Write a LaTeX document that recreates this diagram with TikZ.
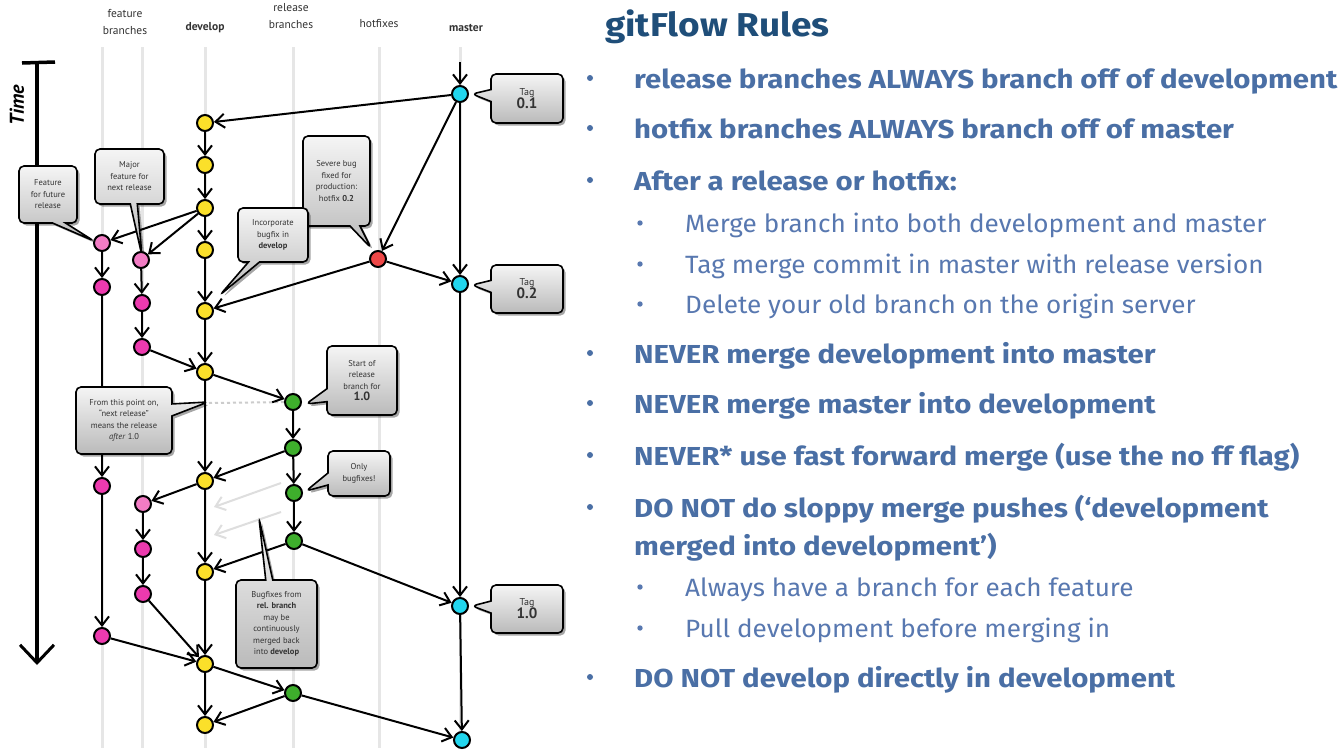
\documentclass[tikz,border=0pt]{standalone}
\usepackage{fontspec}
\setmainfont{PT Sans}
\newfontfamily\rulefontA[FakeStretch=1.13]{Fira Sans}
\newfontfamily\rulefontB[FakeStretch=1.045]{Fira Sans}
\newfontfamily\titlefont[FakeStretch=1.12]{Fira Sans}
\usetikzlibrary{arrows.meta,shapes.callouts,shadows}
\definecolor{cyanc}{HTML}{22D6EE}
\definecolor{yel}{HTML}{FBE02A}
\definecolor{mag}{HTML}{EC3AAE}
\definecolor{pinkl}{HTML}{F27CC4}
\definecolor{redc}{HTML}{EE4848}
\definecolor{grn}{HTML}{3EAE2C}
\definecolor{lanec}{HTML}{E6E6E6}
\definecolor{titleblue}{HTML}{1F4E79}
\definecolor{ruleblue}{HTML}{4A6FA5}
\definecolor{subblue}{HTML}{5878B0}
\pgfdeclarelayer{lanes}
\pgfdeclarelayer{edges}
\pgfdeclarelayer{notes}
\pgfsetlayers{lanes,edges,notes,main}
\tikzset{
  commit/.style={circle, draw=black, line width=2pt, minimum size=16pt, inner sep=0pt},
  cy/.style={commit, fill=cyanc},
  ye/.style={commit, fill=yel},
  mg/.style={commit, fill=mag},
  pk/.style={commit, fill=pinkl},
  rd/.style={commit, fill=redc},
  gr/.style={commit, fill=grn},
  flow/.style={line width=2pt, -{Straight Barb[length=9pt,width=14pt,line width=2pt]}},
  ghost/.style={flow, draw=black!13},
  lanel/.style={draw=lanec, line width=3pt},
  note/.style={rectangle callout, draw=black, line width=1.6pt, rounded corners=5pt,
    top color=black!4, bottom color=black!27, text=black!80, align=center,
    font=\fontsize{8.5}{11.5}\selectfont, inner sep=1pt,
    drop shadow={shadow xshift=2.5pt, shadow yshift=-2.5pt, opacity=0.35, fill=black}},
  head/.style={align=center, text=black!80, font=\fontsize{11.5}{17}\selectfont, inner sep=0pt},
  headb/.style={head, font=\bfseries\fontsize{11.5}{14}\selectfont},
  lvl1/.style={anchor=base west, inner sep=0pt, text=ruleblue, font=\rulefontA\bfseries\fontsize{26}{30}\selectfont},
  lvl2/.style={anchor=base west, inner sep=0pt, text=subblue, font=\rulefontB\fontsize{25}{30}\selectfont},
}
\newcommand{\tagtext}[1]{{\fontsize{10}{12}\selectfont Tag}\\[-1pt]{\bfseries\fontsize{15}{16}\selectfont #1}}
\begin{document}
\begin{tikzpicture}[x=1pt,y=-1pt]
\useasboundingbox (0,0) rectangle (1344,755);

% ---------- headers ----------
\node[head] (hfeat) at (125,22) {feature\\branches};
\node[headb] (hdev) at (205,28) {develop};
\node[head] (hrel) at (291,16) {release\\branches};
\node[head] (hhot) at (379,24) {hotfixes};
\node[headb] (hmas) at (466,28) {master};

% ---------- lanes ----------
\begin{pgfonlayer}{lanes}
\fill[white] (0,0) rectangle (1344,755);
\foreach \lx in {102,142,205,293,379,460}
  \draw[lanel] (\lx,47) -- (\lx,748);
\end{pgfonlayer}

% ---------- commits ----------
\node[cy] (m1) at (460,94) {};
\node[cy] (m2) at (460,284) {};
\node[cy] (m3) at (460,606) {};
\node[cy] (m4) at (462,740) {};
\coordinate (mtop) at (460,62);

\node[ye] (d1) at (205,123) {};
\node[ye] (d2) at (205,165) {};
\node[ye] (d3) at (205,208) {};
\node[ye] (d4) at (205,250) {};
\node[ye] (d5) at (205,311) {};
\node[ye] (d6) at (205,372) {};
\node[ye] (d7) at (205,481) {};
\node[ye] (d8) at (205,572) {};
\node[ye] (d9) at (205,664) {};
\node[ye] (d10) at (205,725) {};

\node[rd] (h1) at (378,259) {};

\node[pk] (fa1) at (102,243) {};
\node[mg] (fa2) at (102,287) {};
\node[mg] (fa3) at (102,486) {};
\node[mg] (fa4) at (102,636) {};

\node[pk] (fb1) at (141,260) {};
\node[mg] (fb2) at (142,303) {};
\node[mg] (fb3) at (142,347) {};
\node[pk] (fb4) at (143,504) {};
\node[mg] (fb5) at (143,549) {};
\node[mg] (fb6) at (143,594) {};

\node[gr] (r1) at (293,402) {};
\node[gr] (r2) at (293,448) {};
\node[gr] (r3) at (294,493) {};
\node[gr] (r4) at (294,541) {};
\node[gr] (r5) at (293,693) {};

\coordinate (g1s) at (281,483);
\coordinate (g1e) at (214,507);
\coordinate (g2s) at (281,512);
\coordinate (g2e) at (214,535);
\coordinate (dsh) at (209,403);

\coordinate (t0) at (37,63);
\coordinate (t1) at (37,665);
\coordinate (tl) at (22,63);
\coordinate (tr) at (55,62);

% ---------- connectors ----------
\begin{pgfonlayer}{edges}
% time axis
\draw[line width=3.5pt] (tl) -- (tr);
\draw[line width=3.5pt, -{Straight Barb[length=18pt,width=34pt,line width=3pt]}] (t0) -- (t1);

\draw[flow] (mtop) -- (m1);
\draw[flow] (m1) -- (d1);
\draw[flow] (m1) -- (h1);
\draw[flow] (m1) -- (m2);
\draw[flow] (m2) -- (m3);
\draw[flow] (m3) -- (m4);
\foreach \a/\b in {d1/d2,d2/d3,d3/d4,d4/d5,d5/d6,d6/d7,d7/d8,d8/d9,d9/d10}
  \draw[flow] (\a) -- (\b);
\draw[flow] (d3) -- (fa1);
\draw[flow] (d3) -- (fb1);
\draw[flow] (fa1) -- (fa2);
\draw[flow] (fa2) -- (fa3);
\draw[flow] (fa3) -- (fa4);
\draw[flow] (fa4) -- (d9);
\draw[flow] (fb1) -- (fb2);
\draw[flow] (fb2) -- (fb3);
\draw[flow] (fb3) -- (d6);
\draw[flow] (h1) -- (m2);
\draw[flow] (h1) -- (d5);
\draw[black!20, dashed, line width=2pt] (dsh) -- (r1);
\draw[flow] (d6) -- (r1);
\draw[flow] (r1) -- (r2);
\draw[flow] (r2) -- (r3);
\draw[flow] (r3) -- (r4);
\draw[flow] (r2) -- (d7);
\draw[flow] (r4) -- (d8);
\draw[flow] (r4) -- (m3);
\draw[flow] (d7) -- (fb4);
\draw[flow] (fb4) -- (fb5);
\draw[flow] (fb5) -- (fb6);
\draw[flow] (fb6) -- (d9);
\draw[flow] (d9) -- (r5);
\draw[flow] (r5) -- (d10);
\draw[flow] (r5) -- (m4);
\draw[ghost] (g1s) -- (g1e);
\draw[ghost] (g2s) -- (g2e);
\end{pgfonlayer}

\node[rotate=90, font=\bfseries\itshape\fontsize{20}{20}\selectfont, inner sep=0pt] (time) at (17,105) {Time};

% ---------- callouts ----------
\begin{pgfonlayer}{notes}
\node[note, minimum width=72pt, minimum height=49pt, callout pointer width=12pt,
  callout absolute pointer={(472,94)}] (n01) at (527,98.5) {\tagtext{0.1}};
\node[note, minimum width=72pt, minimum height=48pt, callout pointer width=12pt,
  callout absolute pointer={(472,285)}] (n02) at (527,289) {\tagtext{0.2}};
\node[note, minimum width=72pt, minimum height=48pt, callout pointer width=12pt,
  callout absolute pointer={(472,606)}] (n10) at (527,609) {\tagtext{1.0}};
\node[note, minimum width=58pt, minimum height=57pt, callout pointer width=13pt,
  callout absolute pointer={(94,241)}] (nfut) at (48,194.5)
  {Feature\\for future\\release};
\node[note, minimum width=69pt, minimum height=55pt, callout pointer width=7pt,
  callout absolute pointer={(142,256)}] (nmaj) at (129.5,176.5)
  {Major\\feature for\\next release};
\node[note, minimum width=67pt, minimum height=90pt, callout pointer width=10pt,
  callout absolute pointer={(371,248)}] (nsev) at (336.5,181)
  {Severe bug\\fixed for\\production:\\hotfix \textbf{0.2}};
\node[note, minimum width=70pt, minimum height=54pt, callout pointer width=11pt,
  callout absolute pointer={(220,295)}] (ninc) at (273,235)
  {Incorporate\\bugfix in\\\textbf{develop}};
\node[note, minimum width=70pt, minimum height=69pt, callout pointer width=13pt,
  callout absolute pointer={(306,404)}] (nsta) at (362,380.5)
  {Start of\\release\\branch for\\{\bfseries\fontsize{12}{13}\selectfont 1.0}};
\node[note, minimum width=96pt, minimum height=67pt, callout pointer width=12pt,
  callout absolute pointer={(208,402)}] (nfrom) at (124,420.5)
  {From this point on,\\``next release''\\means the release\\\emph{after} 1.0};
\node[note, minimum width=62pt, minimum height=45pt, callout pointer width=12pt,
  callout absolute pointer={(306,491)}] (nonly) at (359,473.5)
  {Only\\bugfixes!};
\node[note, minimum width=81pt, minimum height=88pt, callout pointer width=7pt,
  callout absolute pointer={(259,518)}] (nbug) at (276.5,624)
  {Bugfixes from\\\textbf{rel. branch}\\may be\\continuously\\merged back\\into \textbf{develop}};
\end{pgfonlayer}

% ---------- rules text ----------
\node[anchor=base west, inner sep=0pt, text=titleblue, font=\titlefont\bfseries\fontsize{33}{38}\selectfont] (title) at (605,36) {gitFlow Rules};

\foreach \by in {88,138,190,363,413,465,517,687}
  \fill[ruleblue] (590,\by-10) circle (3pt);
\foreach \by in {232,273,313,596,637}
  \fill[subblue] (640,\by-9) circle (2.7pt);

\node[lvl1] (ru1) at (634,88) {release branches ALWAYS branch off of development};
\node[lvl1] (ru2) at (634,138) {hotfix branches ALWAYS branch off of master};
\node[lvl1] (ru3) at (634,190) {After a release or hotfix:};
\node[lvl2] (su1) at (685,232) {Merge branch into both development and master};
\node[lvl2] (su2) at (685,273) {Tag merge commit in master with release version};
\node[lvl2] (su3) at (685,313) {Delete your old branch on the origin server};
\node[lvl1] (ru4) at (634,363) {NEVER merge development into master};
\node[lvl1] (ru5) at (634,413) {NEVER merge master into development};
\node[lvl1] (ru6) at (634,465) {NEVER* use fast forward merge (use the no ff flag)};
\node[lvl1] (ru7) at (634,517) {DO NOT do sloppy merge pushes (‘development};
\node[lvl1] (ru7b) at (634,555) {merged into development’)};
\node[lvl2] (su4) at (685,596) {Always have a branch for each feature};
\node[lvl2] (su5) at (685,637) {Pull development before merging in};
\node[lvl1] (ru8) at (634,687) {DO NOT develop directly in development};
\end{tikzpicture}
\end{document}
